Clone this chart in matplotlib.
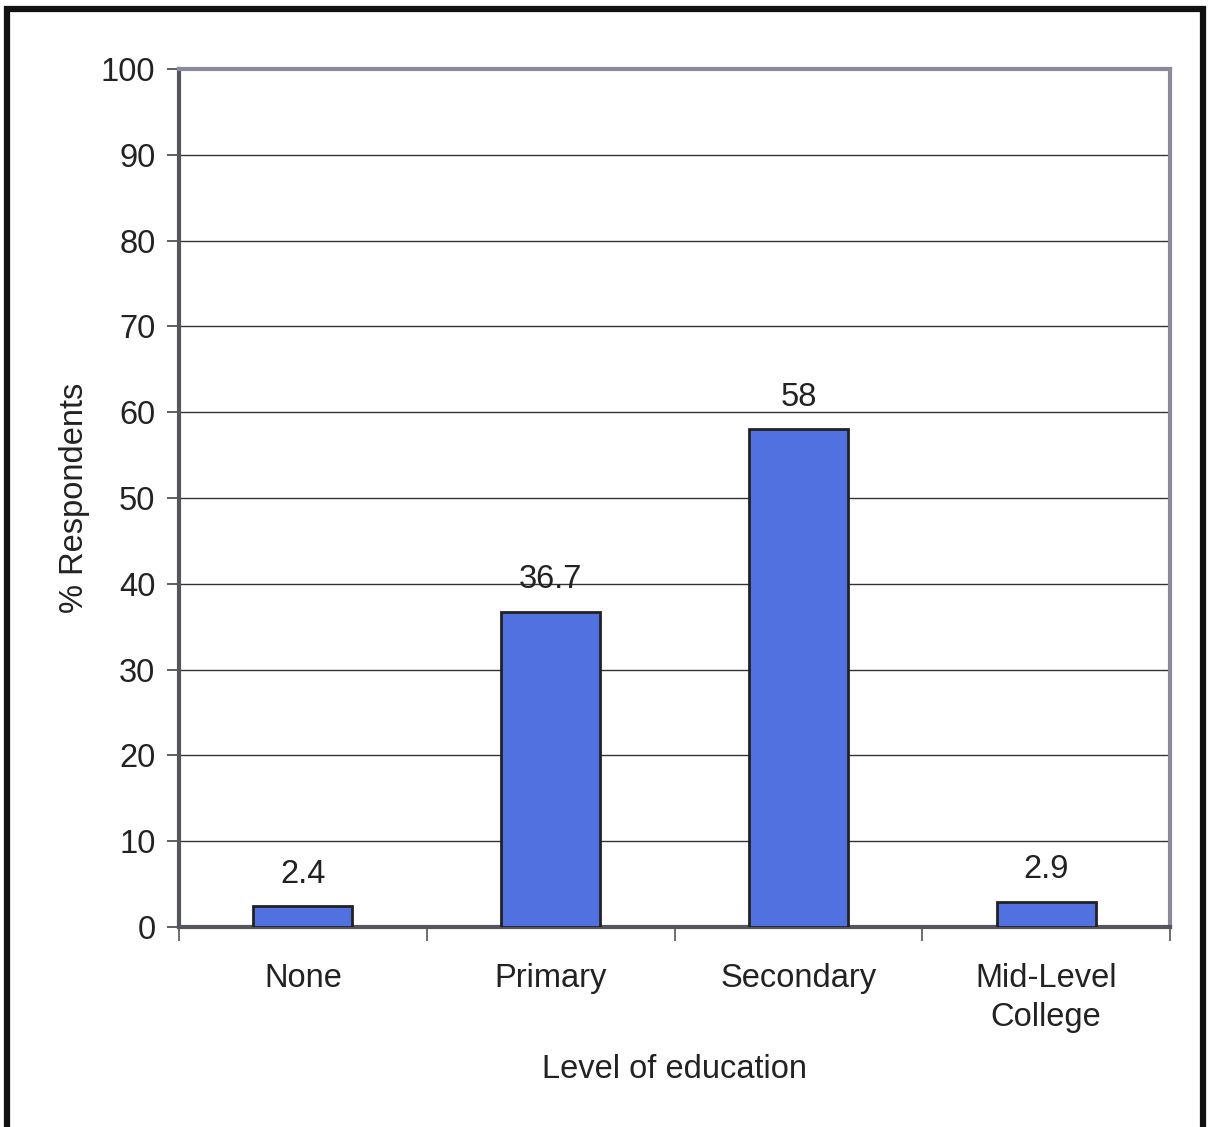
import matplotlib
matplotlib.use("Agg")
import matplotlib.pyplot as plt
from matplotlib.patches import Rectangle

plt.rcParams['font.family'] = ['Liberation Sans', 'DejaVu Sans']

categories = ["None", "Primary", "Secondary", "Mid-Level\nCollege"]
values = [2.4, 36.7, 58, 2.9]
labels = ["2.4", "36.7", "58", "2.9"]
yticks = [0, 10, 20, 30, 40, 50, 60, 70, 80, 90, 100]

FS = 23.5

fig = plt.figure(figsize=(12.15, 11.27), dpi=100)
ax = fig.add_axes([179/1215, 1 - 927/1127, (1170-179)/1215, (927-69)/1127])

x = list(range(len(categories)))
bars = ax.bar(x, values, width=0.4, color='#5271E0', edgecolor='#222222', linewidth=2, zorder=3)
for xi, v, lab in zip(x, values, labels):
    ax.annotate(lab, (xi, v), xytext=(0, 12), textcoords='offset points',
                ha='center', va='bottom', fontsize=FS, color='#222222', zorder=4)

ax.set_xlim(-0.5, len(categories) - 0.5)
ax.set_ylim(0, 100)
ax.set_yticks(yticks)
ax.set_yticklabels([str(t) for t in yticks], fontsize=FS, color='#222222')
ax.yaxis.grid(True, color='#333333', linewidth=1.0, zorder=0)
ax.set_axisbelow(True)

ax.set_xticks(x)
ax.set_xticklabels(categories, fontsize=FS, color='#222222', linespacing=1.33)
ax.tick_params(axis='x', length=0, pad=26)
ax.set_xticks([i - 0.5 for i in range(len(categories) + 1)], minor=True)
ax.tick_params(axis='x', which='minor', length=10, width=1.2, color='#555555')
ax.tick_params(axis='y', length=9, width=1.2, color='#444444', pad=8)

for side in ['top', 'right']:
    ax.spines[side].set_color('#8a8a9a')
    ax.spines[side].set_linewidth(3)
for side in ['left', 'bottom']:
    ax.spines[side].set_color('#555560')
    ax.spines[side].set_linewidth(3)

ax.set_ylabel("% Respondents", fontsize=FS, color='#222222', labelpad=8)
ax.set_xlabel("Level of education", fontsize=FS, color='#222222', labelpad=15)

# outer frame
fig.patches.append(Rectangle((7/1215, -0.05), (1203-7)/1215, 1.05 - 9/1127,
                             transform=fig.transFigure, fill=False,
                             edgecolor='#111111', linewidth=4.5))

fig.savefig("out.png", dpi=100, facecolor='white')
